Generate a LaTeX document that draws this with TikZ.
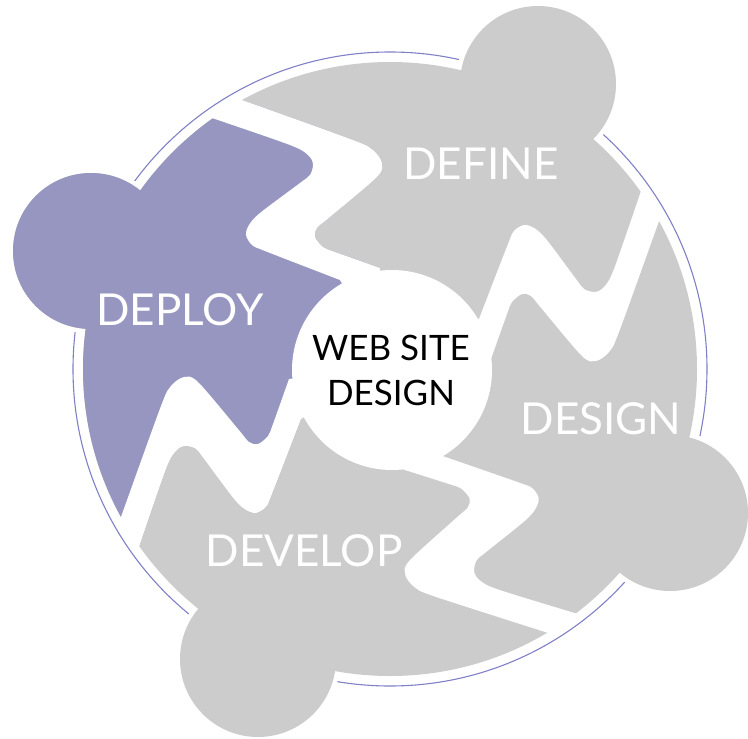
\documentclass[tikz,border=0pt]{standalone}
\usepackage{fontspec}
\setmainfont{Lato}
\usetikzlibrary{positioning}
\definecolor{PieceGrey}{RGB}{204,204,204}
\definecolor{DeployViolet}{RGB}{150,150,193}
\definecolor{RingLine}{RGB}{128,128,198}
\tikzset{
  ring/.style={draw=RingLine,line width=1.1pt},
  bumpcut/.style={draw=white,line width=9pt},
  piecefill/.style={fill=PieceGrey},
  deployfill/.style={fill=DeployViolet},
  piecelabel/.style={text=white,inner sep=0pt,font=\fontsize{44}{50}\selectfont},
  hublabel/.style={text=black,inner sep=0pt,align=center,
    font=\fontsize{35}{45}\selectfont}
}
% one gap, drawn for the DEPLOY / DEFINE joint, rotated for the others
\newcommand{\nearedge}{(180,107) -- plot[smooth,tension=.5] coordinates {(212,118) (290,145)
  (308,155) (313,164) (310,175) (300,183) (260,213) (249,225) (246,235) (252,245)
  (265,251) (340,280)}}
\newcommand{\faredge}{-- plot[smooth,tension=.5] coordinates {(380,268) (335,252) (323,247)
  (315,237) (317,228) (330,217) (377,177) (382,163) (373,150) (353,140) (242,100)}
  -- (210,88)}
\begin{document}
\begin{tikzpicture}[x=1pt,y=-1pt]
  \useasboundingbox (0,0) rectangle (748,739);
  \coordinate (hub) at (390,369);
  \coordinate (deploybump) at (91,251);
  \coordinate (definebump) at (538,84);
  \coordinate (designbump) at (670,513);
  \coordinate (developbump) at (258,659);
  % outer ring, broken at the bumps
  \draw[ring] (hub) circle (317pt);
  \foreach \b in {deploybump,definebump,designbump,developbump}
    \draw[bumpcut] (\b) circle (78pt);
  % the disc and its bumps
  \fill[piecefill] (hub) circle (307pt);
  \foreach \b in {deploybump,definebump,designbump,developbump}
    \fill[piecefill] (\b) circle (78pt);
  % deploy piece
  \begin{scope}
    \clip (hub) \faredge -- (150,-100) -- (-200,-100) -- (-200,900) -- (390,900) -- cycle;
    \begin{scope}[rotate around={90:(hub)}]
      \clip \nearedge -- (hub) -- (900,369) -- (900,-100) -- (150,-100) -- cycle;
      \fill[deployfill] (hub) circle (307pt) (deploybump) circle (78pt);
    \end{scope}
  \end{scope}
  % white gaps
  \foreach \ang in {0,90,182,270}{
    \begin{scope}[rotate around={\ang:(hub)}]
      \clip (hub) circle (312pt);
      \fill[white] \nearedge -- (hub) \faredge -- cycle;
    \end{scope}
  }
  \fill[white] (392,370) circle (100pt);
  % labels
  \node[hublabel] (title) at (391,370) {WEB SITE\\DESIGN};
  \node[piecelabel] (define) at (481,164) {DEFINE};
  \node[piecelabel] (deploy) at (180,310) {DEPLOY};
  \node[piecelabel] (design) at (601,419) {DESIGN};
  \node[piecelabel] (develop) at (304,551) {DEVELOP};
\end{tikzpicture}
\end{document}
